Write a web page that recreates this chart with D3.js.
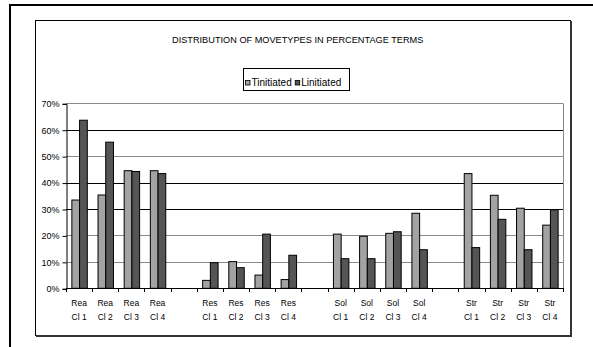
<!DOCTYPE html>
<html>
<head>
<meta charset="utf-8">
<script src="https://cdn.jsdelivr.net/npm/d3@7"></script>
<style>
  html, body { margin: 0; padding: 0; background: #fff; }
  svg { display: block; font-family: Arial, "Liberation Sans", sans-serif; }
</style>
</head>
<body>
<svg id="chart" width="593" height="347"></svg>
<script>
// Move types and classes; empty slots separate the four move types.
const moveTypes = ["Rea", "Res", "Sol", "Str"];
const classes = ["Cl 1", "Cl 2", "Cl 3", "Cl 4"];
const seriesNames = ["Tinitiated", "Linitiated"];

// Percentages per class, grouped by move type (Rea, Res, Sol, Str).
const tInitiated = [33.4, 35.3, 44.5, 44.5,   3.0, 10.1, 5.0, 3.3,   20.5, 19.7, 20.8, 28.4,   43.4, 35.2, 30.3, 23.9];
const lInitiated = [63.6, 55.3, 44.2, 43.4,   9.7, 7.8, 20.5, 12.5,   11.2, 11.2, 21.4, 14.6,   15.4, 26.1, 14.6, 29.7];

const yTicks = [0, 10, 20, 30, 40, 50, 60, 70];

// Build the 19 slots on the category axis (16 bars pairs + 3 spacer slots).
const slots = [];
moveTypes.forEach((m, gi) => {
  classes.forEach((c, ci) => {
    const k = gi * classes.length + ci;
    slots.push({ type: m, cls: c, values: [tInitiated[k], lInitiated[k]] });
  });
  if (gi < moveTypes.length - 1) slots.push(null);
});

const svg = d3.select("#chart");

// Outer frame (top and left edges)
svg.append("line").attr("x1", 9).attr("x2", 593).attr("y1", 5).attr("y2", 5)
  .attr("stroke", "#000").attr("stroke-width", 2);
svg.append("line").attr("x1", 10).attr("x2", 10).attr("y1", 4).attr("y2", 347)
  .attr("stroke", "#000").attr("stroke-width", 2);

// Chart box
svg.append("rect").attr("x", 35.5).attr("y", 20.5).attr("width", 535).attr("height", 315)
  .attr("fill", "#fff").attr("stroke", "#000").attr("stroke-width", 1);
svg.append("line").attr("x1", 571).attr("x2", 571).attr("y1", 21).attr("y2", 337)
  .attr("stroke", "#333").attr("stroke-width", 2);
svg.append("line").attr("x1", 36).attr("x2", 572).attr("y1", 336).attr("y2", 336)
  .attr("stroke", "#333").attr("stroke-width", 2);

// Title
svg.append("text").attr("x", 172).attr("y", 43.3)
  .attr("font-size", 9.2).attr("fill", "#000")
  .text("DISTRIBUTION OF MOVETYPES IN PERCENTAGE TERMS");

const plot = { left: 66, right: 563, top: 103.3, bottom: 288.3 };

const x = d3.scaleBand().domain(d3.range(slots.length)).range([plot.left, plot.right]).padding(0);
const y = d3.scaleLinear().domain([0, 70]).range([plot.bottom, plot.top]);
const barW = x.bandwidth() * 0.295;
const xSeries = d3.scaleBand().domain([0, 1])
  .range([-barW, barW]).padding(0);

const colors = ["#a3a3a3", "#555555"];

// Gridlines
const gridColor = { 70: "#8a8a8a", 60: "#000", 50: "#8a8a8a", 40: "#000", 30: "#000", 20: "#8a8a8a", 10: "#8a8a8a" };
svg.append("g").selectAll("line").data(yTicks.filter(t => t > 0)).join("line")
  .attr("x1", plot.left).attr("x2", plot.right)
  .attr("y1", d => Math.round(y(d)) + 0.5).attr("y2", d => Math.round(y(d)) + 0.5)
  .attr("stroke", d => gridColor[d]).attr("stroke-width", 1);

// Right edge of the plot area
svg.append("line").attr("x1", plot.right + 0.5).attr("x2", plot.right + 0.5)
  .attr("y1", Math.round(plot.top) + 0.5).attr("y2", plot.bottom)
  .attr("stroke", "#8a8a8a");

// Bars
const gSlots = svg.append("g").selectAll("g").data(slots.map((s, i) => ({ s, i })).filter(d => d.s))
  .join("g")
  .attr("transform", d => `translate(${x(d.i) + x.bandwidth() / 2},0)`);
gSlots.selectAll("rect").data(d => d.s.values.map((v, k) => ({ v, k }))).join("rect")
  .attr("x", d => xSeries(d.k) + 0.5)
  .attr("width", xSeries.bandwidth())
  .attr("y", d => y(d.v))
  .attr("height", d => y(0) - y(d.v))
  .attr("fill", d => colors[d.k])
  .attr("stroke", "#000").attr("stroke-width", 1);

// Y axis
const yAxis = d3.axisLeft(y).tickValues(yTicks).tickFormat(d => d + "%").tickSize(4).tickPadding(3);
const gy = svg.append("g").attr("transform", `translate(${plot.left + 0.5},0.5)`).call(yAxis);
gy.select(".domain").attr("stroke", "#000");
gy.selectAll(".tick line").attr("stroke", "#000");
gy.selectAll("text").attr("font-size", 9).attr("font-family", "Arial, 'Liberation Sans', sans-serif").attr("fill", "#000");

// X axis: tick marks on slot boundaries
const gx = svg.append("g");
gx.append("line").attr("x1", plot.left).attr("x2", plot.right)
  .attr("y1", Math.round(plot.bottom) + 0.5).attr("y2", Math.round(plot.bottom) + 0.5)
  .attr("stroke", "#000");
gx.selectAll("line.tick").data(d3.range(slots.length + 1)).join("line").attr("class", "tick")
  .attr("x1", i => Math.round(plot.left + i * x.step()) + 0.5)
  .attr("x2", i => Math.round(plot.left + i * x.step()) + 0.5)
  .attr("y1", Math.round(plot.bottom)).attr("y2", Math.round(plot.bottom) + 4)
  .attr("stroke", "#000");

// Category labels (two lines)
const labels = gx.selectAll("text").data(slots.map((s, i) => ({ s, i })).filter(d => d.s)).join("text")
  .attr("text-anchor", "middle").attr("font-size", 8.5).attr("fill", "#000")
  .attr("transform", d => `translate(${x(d.i) + x.bandwidth() / 2},0)`);
labels.append("tspan").attr("x", 0).attr("y", 306).text(d => d.s.type);
labels.append("tspan").attr("x", 0).attr("y", 319.5).text(d => d.s.cls);

// Legend
const legend = svg.append("g");
legend.append("rect").attr("x", 243.5).attr("y", 68.5).attr("width", 106).attr("height", 22)
  .attr("fill", "#fff").attr("stroke", "#000");
let lx = 245.5;
seriesNames.forEach((name, k) => {
  legend.append("rect").attr("x", lx).attr("y", 80.5).attr("width", 4.5).attr("height", 4.5)
    .attr("fill", colors[k]).attr("stroke", "#000").attr("stroke-width", 0.8);
  const t = legend.append("text").attr("x", lx + 6).attr("y", 85.5)
    .attr("font-size", 10).attr("fill", "#000").text(name);
  lx += 6 + t.node().getComputedTextLength() + 3.5;
});
</script>
</body>
</html>
